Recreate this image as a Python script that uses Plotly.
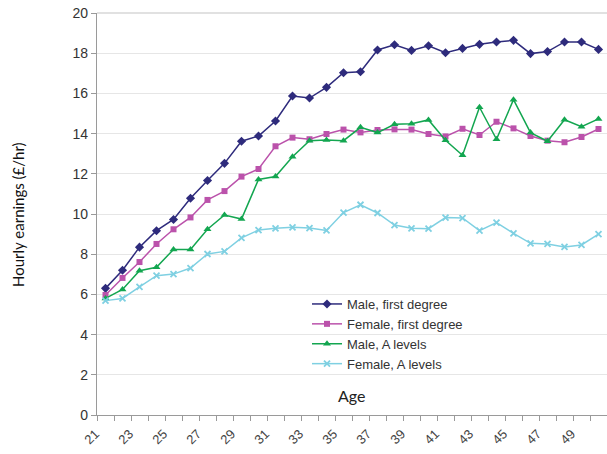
import plotly.graph_objects as go

ages = list(range(21, 51))
male_degree = [6.3, 7.2, 8.35, 9.17, 9.73, 10.78, 11.67, 12.52, 13.62, 13.88, 14.63, 15.87, 15.77, 16.3,
               17.03, 17.08, 18.16, 18.42, 18.14, 18.37, 18.02, 18.24, 18.44, 18.56, 18.64, 17.98, 18.08,
               18.56, 18.56, 18.19]
female_degree = [5.97, 6.82, 7.61, 8.51, 9.24, 9.83, 10.7, 11.14, 11.86, 12.24, 13.37, 13.8, 13.72, 13.98,
                 14.2, 14.06, 14.18, 14.21, 14.2, 13.98, 13.86, 14.24, 13.93, 14.59, 14.26, 13.88, 13.65,
                 13.57, 13.83, 14.23]
male_alevel = [5.8, 6.25, 7.18, 7.35, 8.24, 8.24, 9.24, 9.95, 9.75, 11.72, 11.86, 12.85, 13.65, 13.68,
               13.65, 14.31, 14.05, 14.46, 14.49, 14.68, 13.67, 12.92, 15.31, 13.72, 15.69, 14.05, 13.62,
               14.69, 14.34, 14.73]
female_alevel = [5.69, 5.8, 6.37, 6.93, 7.01, 7.31, 8.01, 8.14, 8.81, 9.2, 9.29, 9.34, 9.3, 9.18,
                 10.07, 10.46, 10.05, 9.45, 9.29, 9.27, 9.82, 9.8, 9.17, 9.57, 9.04, 8.54, 8.51,
                 8.36, 8.46, 9.0]
tick_labels = [str(a) for a in range(21, 50, 2)]
y_ticks = list(range(0, 21, 2))

series = [
    ("Male, first degree", male_degree, "#2e2b7c", "diamond", 7),
    ("Female, first degree", female_degree, "#bb52ab", "square", 6),
    ("Male, A levels", male_alevel, "#13a650", "triangle-up", 7),
    ("Female, A levels", female_alevel, "#7fd0e2", "x-thin", 6),
]

fig = go.Figure()
for name, vals, col, sym, sz in series:
    marker = dict(symbol=sym, size=sz, color=col)
    if sym == "x-thin":
        marker["line"] = dict(color=col, width=1.8)
    fig.add_trace(go.Scatter(x=ages, y=vals, name=name, mode="lines+markers",
                             line=dict(color=col, width=1.5), marker=marker))

W, H = 607, 454
PL, PT, PR, PB = 97, 13, 607, 415          # plot area in page pixels
L, T, R, B = PL, PT, W - PR, H - PB
pw, ph = PR - PL, PB - PT

def px_x(p):
    return (p - PL) / pw

def px_y(p):
    return (PB - p) / ph

# white legend backdrop hiding gridlines
fig.add_shape(type="rect", xref="paper", yref="paper",
              x0=px_x(317), x1=px_x(477), y0=px_y(386), y1=px_y(286),
              fillcolor="white", line=dict(width=0), layer="below")
# top border line
fig.add_shape(type="line", xref="paper", yref="paper", x0=0, x1=1, y0=1, y1=1,
              line=dict(color="#c4c4c4", width=1.2))

fig.add_annotation(text="Age", xref="paper", yref="paper", x=px_x(351), y=px_y(395),
                   xanchor="center", yanchor="middle",
                   showarrow=False, font=dict(family="Lato", size=16, color="#222"))
fig.add_annotation(text="Hourly earnings (£/hr)", xref="paper", yref="paper",
                   x=px_x(18), y=px_y(215), xanchor="center", yanchor="middle",
                   textangle=-90, showarrow=False,
                   font=dict(family="Lato", size=15, color="#111"))

fig.update_layout(
    width=W, height=H,
    margin=dict(l=L, r=R, t=T, b=B, pad=0),
    paper_bgcolor="white", plot_bgcolor="white",
    showlegend=True,
    legend=dict(x=px_x(307), y=px_y(289), xanchor="left", yanchor="top",
                bgcolor="rgba(255,255,255,0)", font=dict(family="Liberation Sans", size=13, color="#333"),
                tracegroupgap=0, itemwidth=30),
    xaxis=dict(range=[20.5, 50.5], tickmode="array", tickvals=list(range(21, 50, 2)),
               ticktext=tick_labels, tickangle=-45, ticks="", automargin=False,
               ticklabelshift=-10, ticklabelstandoff=5,
               tickfont=dict(family="Liberation Sans", size=13, color="#444"),
               showgrid=False, zeroline=False, showline=True, linecolor="#9a9a9a", linewidth=1.2,
               minor=dict(ticks="outside", tick0=20.5, dtick=1, ticklen=5, tickcolor="#9a9a9a",
                          showgrid=False)),
    yaxis=dict(range=[0, 20], tickmode="array", tickvals=y_ticks, automargin=False,
               ticks="outside", ticklen=5, tickcolor="#9a9a9a",
               tickfont=dict(family="Liberation Sans", size=14, color="#333"),
               showgrid=True, gridcolor="#e6e6e6", gridwidth=1, zeroline=False,
               showline=True, linecolor="#9a9a9a", linewidth=1.2),
)

fig.write_html("out.html", config={"displayModeBar": False},
               post_script="document.body.style.margin='0';")
